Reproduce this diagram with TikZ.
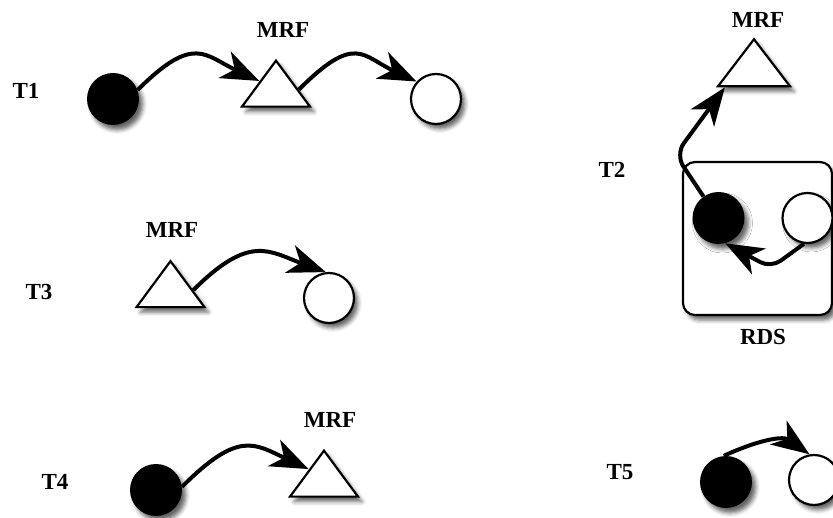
\documentclass[tikz,border=0pt]{standalone}
\usepackage{fontspec}
\setmainfont{Liberation Serif}
\usetikzlibrary{arrows.meta,shapes.geometric,shadows.blur}
\begin{document}
\begin{tikzpicture}[x=1pt,y=1pt,
  shad/.style={blur shadow={shadow xshift=4pt,shadow yshift=-5pt,shadow blur radius=4pt,shadow opacity=60}},
  lbl/.style={font=\fontsize{23}{23}\selectfont\bfseries, inner sep=0pt},
  full/.style={circle, fill=black, minimum size=52pt, inner sep=0pt, shad},
  empty/.style={circle, draw=black, line width=2.2pt, fill=white, minimum size=50pt, inner sep=0pt, shad},
  tri/.style={isosceles triangle, shape border rotate=90, isosceles triangle stretches, draw=black, line width=2.2pt, fill=white, minimum width=68pt, minimum height=46pt, inner sep=0pt, shad},
  conn/.style={line width=4pt, -{Stealth[length=38pt,width=29pt,inset=11pt]}},
  hump/.style={out=45, in=155, out distance=80pt, in distance=60pt},
  rdsbox/.style={rectangle, draw=black, line width=2.2pt, rounded corners=12pt, fill=white, minimum width=149pt, minimum height=153pt, shad}]
\useasboundingbox (0,0) rectangle (833,-518);
% T1
\node[lbl] (l1) at (26,-91) {T1};
\node[full] (c1) at (113,-99) {};
\node[tri] (t1) at (276,-89.5) {};
\node[empty] (c2) at (436,-99) {};
\node[lbl] (m1) at (283,-30) {MRF};
% T3
\node[lbl] (l3) at (39,-292) {T3};
\node[tri] (t3) at (170.5,-290) {};
\node[empty] (c3) at (329,-298) {};
\node[lbl] (m3) at (172,-230) {MRF};
% T4
\node[lbl] (l4) at (55,-482) {T4};
\node[full] (c4) at (156,-490) {};
\node[tri] (t4) at (324,-479.5) {};
\node[lbl] (m4) at (330,-420) {MRF};
% T2
\node[lbl] (l2) at (612,-170) {T2};
\node[rdsbox] (rds) at (757.5,-238.5) {};
\node[full] (c7) at (718.5,-218) {};
\node[empty] (c8) at (807.5,-218) {};
\node[tri, minimum width=72pt, minimum height=47pt] (t2) at (754,-68.5) {};
\node[lbl] (m2) at (758,-20) {MRF};
\node[lbl] (rl) at (763,-337) {RDS};
% T5
\node[lbl] (l5) at (620,-472) {T5};
\node[full] (c5) at (726,-482) {};
\node[empty] (c6) at (814,-480) {};
% connectors
\draw[conn] (c1.20) to[hump] (t1.153);
\draw[conn] (t1.0) to[hump] (c2.138);
\draw[conn] (t3.0) to[hump, in=160] (c3.97);
\draw[conn] (c4.7) to[hump] (t4.146);
\draw[conn, rounded corners=14pt] (c7.125) -- ++(-28,42) -- (t2.213);
\draw[conn, rounded corners=12pt] (c8.262) -- ++(-33,-24) -- (c7.285);
\draw[conn] (c5.95) to[out=25, in=145] (c6.100);
\end{tikzpicture}
\end{document}
